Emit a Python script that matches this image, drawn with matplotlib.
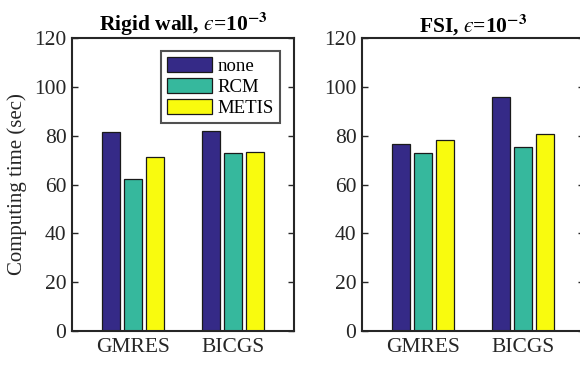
import matplotlib
matplotlib.use('Agg')
import matplotlib.pyplot as plt
import numpy as np

plt.rcParams['font.family'] = ['Liberation Serif', 'DejaVu Serif']
plt.rcParams['mathtext.fontset'] = 'stix'

# Solvers on the x axis and the reordering methods (series)
SOLVERS = ['GMRES', 'BICGS']
METHODS = ['none', 'RCM', 'METIS']
COLORS = ['#352A87', '#36B89D', '#F9FB0E']

# Computing time (sec), one list per method, ordered as SOLVERS
rigid_none = [81.4, 82.0]
rigid_rcm = [62.4, 72.7]
rigid_metis = [71.4, 73.5]

fsi_none = [76.5, 95.9]
fsi_rcm = [72.7, 75.3]
fsi_metis = [78.1, 80.7]

W, H = 580, 365
fig = plt.figure(figsize=(W / 100, H / 100), dpi=100)

ax_rect = lambda x0, x1, y0, y1: [x0 / W, (H - y1) / H, (x1 - x0) / W, (y1 - y0) / H]
ax1 = fig.add_axes(ax_rect(72, 294, 38, 331))
ax2 = fig.add_axes(ax_rect(362, 584, 38, 331))

spine_col = '#262626'


def draw_panel(ax, series, title):
    x = np.arange(1, len(SOLVERS) + 1)
    offsets = [-0.22, 0.0, 0.22]
    for vals, off, col, lab in zip(series, offsets, COLORS, METHODS):
        ax.bar(x + off, vals, width=0.18, color=col, edgecolor='#1a1a1a',
               linewidth=0.9, label=lab, zorder=2)
    ax.set_xlim(0.39, 2.61)
    ax.set_ylim(0, 120)
    ax.set_yticks(np.arange(0, 121, 20))
    ax.set_xticks(x)
    ax.set_xticklabels(SOLVERS)
    ax.tick_params(axis='y', direction='in', right=True, length=4,
                   width=1, colors=spine_col, labelsize=15.5, pad=4)
    ax.tick_params(axis='x', length=0, colors=spine_col, labelsize=15.5, pad=5)
    for s in ax.spines.values():
        s.set_linewidth(1.5)
        s.set_color(spine_col)
        s.set_zorder(3)
    ax.set_title(title, fontsize=15.5, fontweight='bold', color='black', pad=4)


draw_panel(ax1, [rigid_none, rigid_rcm, rigid_metis],
           'Rigid wall, $\u03f5$=10$^{\\mathbf{-3}}$')
draw_panel(ax2, [fsi_none, fsi_rcm, fsi_metis],
           'FSI, $\u03f5$=10$^{\\mathbf{-3}}$')

ax1.set_ylabel('Computing time (sec)', fontsize=15, color=spine_col, labelpad=5)

leg = ax1.legend(loc='upper right', bbox_to_anchor=(0.935, 0.955), fontsize=13.5,
                 frameon=True, fancybox=False, borderpad=0.3, labelspacing=0.15,
                 handlelength=2.4, handleheight=0.9, handletextpad=0.3,
                 borderaxespad=0.0)
leg.get_frame().set_edgecolor('#262626')
leg.get_frame().set_linewidth(1.5)

fig.savefig('out.png', dpi=100)
